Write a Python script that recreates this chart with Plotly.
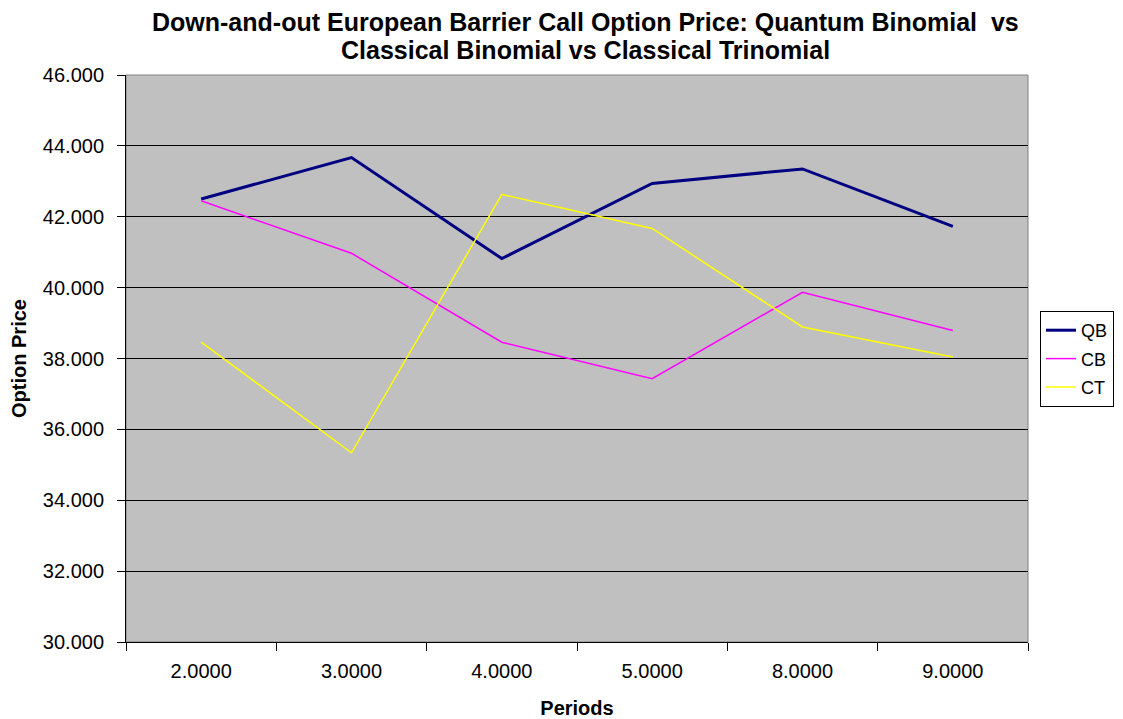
import plotly.graph_objects as go

periods = ["2.0000", "3.0000", "4.0000", "5.0000", "8.0000", "9.0000"]
qb = [42.50, 43.67, 40.82, 42.94, 43.35, 41.73]
cb = [42.45, 40.97, 38.46, 37.43, 39.87, 38.79]
ct = [38.46, 35.34, 42.63, 41.67, 38.89, 38.04]

title_lines = [
    "Down-and-out European Barrier Call Option Price: Quantum Binomial&nbsp; vs",
    "Classical Binomial vs Classical Trinomial",
]

fig = go.Figure()
fig.add_trace(go.Scatter(x=periods, y=qb, name="QB", mode="lines", legendgroup="a",
                         line=dict(color="#000080", width=3)))
fig.add_trace(go.Scatter(x=periods, y=cb, name="CB", mode="lines", legendgroup="b",
                         line=dict(color="#FF00FF", width=1.5)))
fig.add_trace(go.Scatter(x=periods, y=ct, name="CT", mode="lines", legendgroup="c",
                         line=dict(color="#FFFF00", width=1.5)))

font_family = "Liberation Sans, Arial, sans-serif"

W, H = 1115, 711
L, T, R, B = 118, 67, 95, 77
plot_h = H - T - B

def py(yfig):
    return (H - B - yfig) / plot_h

fig.update_layout(
    width=W, height=H,
    margin=dict(l=L, r=R, t=T, b=B, autoexpand=False),
    paper_bgcolor="white",
    plot_bgcolor="#C0C0C0",
    font=dict(family=font_family, size=20, color="black"),
    xaxis=dict(
        type="category", range=[-0.5, 5.5],
        title=dict(text="<b>Periods</b>", font=dict(size=20), standoff=22),
        showgrid=False, showline=True, linecolor="black", linewidth=1,
        ticks="outside", tickson="boundaries", ticklen=8, tickcolor="black",
        tickfont=dict(size=20), ticklabelstandoff=11,
    ),
    yaxis=dict(
        range=[30, 46], dtick=2, tickformat=".3f",
        title=dict(text="<b>Option Price</b>", font=dict(size=20), standoff=12),
        showgrid=True, gridcolor="black", gridwidth=1,
        showline=True, linecolor="black", linewidth=1,
        ticks="outside", ticklen=8, tickcolor="black",
        tickfont=dict(size=20), zeroline=False, ticklabelstandoff=9,
    ),
    legend=dict(
        x=(1032 - L) / (W - L - R), xanchor="left", y=py(303), yanchor="top",
        bordercolor="black", borderwidth=1, bgcolor="white",
        font=dict(size=18), tracegroupgap=2, itemwidth=30,
    ),
    showlegend=True,
)

for txt, yc in zip(title_lines, [13.5, 41.5]):
    fig.add_annotation(text="<b>" + txt + "</b>", xref="paper", yref="paper",
                       x=(577 - L) / (W - L - R), y=py(yc), xanchor="center",
                       yanchor="middle", showarrow=False,
                       font=dict(family=font_family, size=25, color="black"))

fig.add_shape(type="rect", xref="paper", yref="paper", x0=0, x1=1, y0=0, y1=1,
              line=dict(color="#808080", width=1), layer="below")

fig.write_html("out.html")
